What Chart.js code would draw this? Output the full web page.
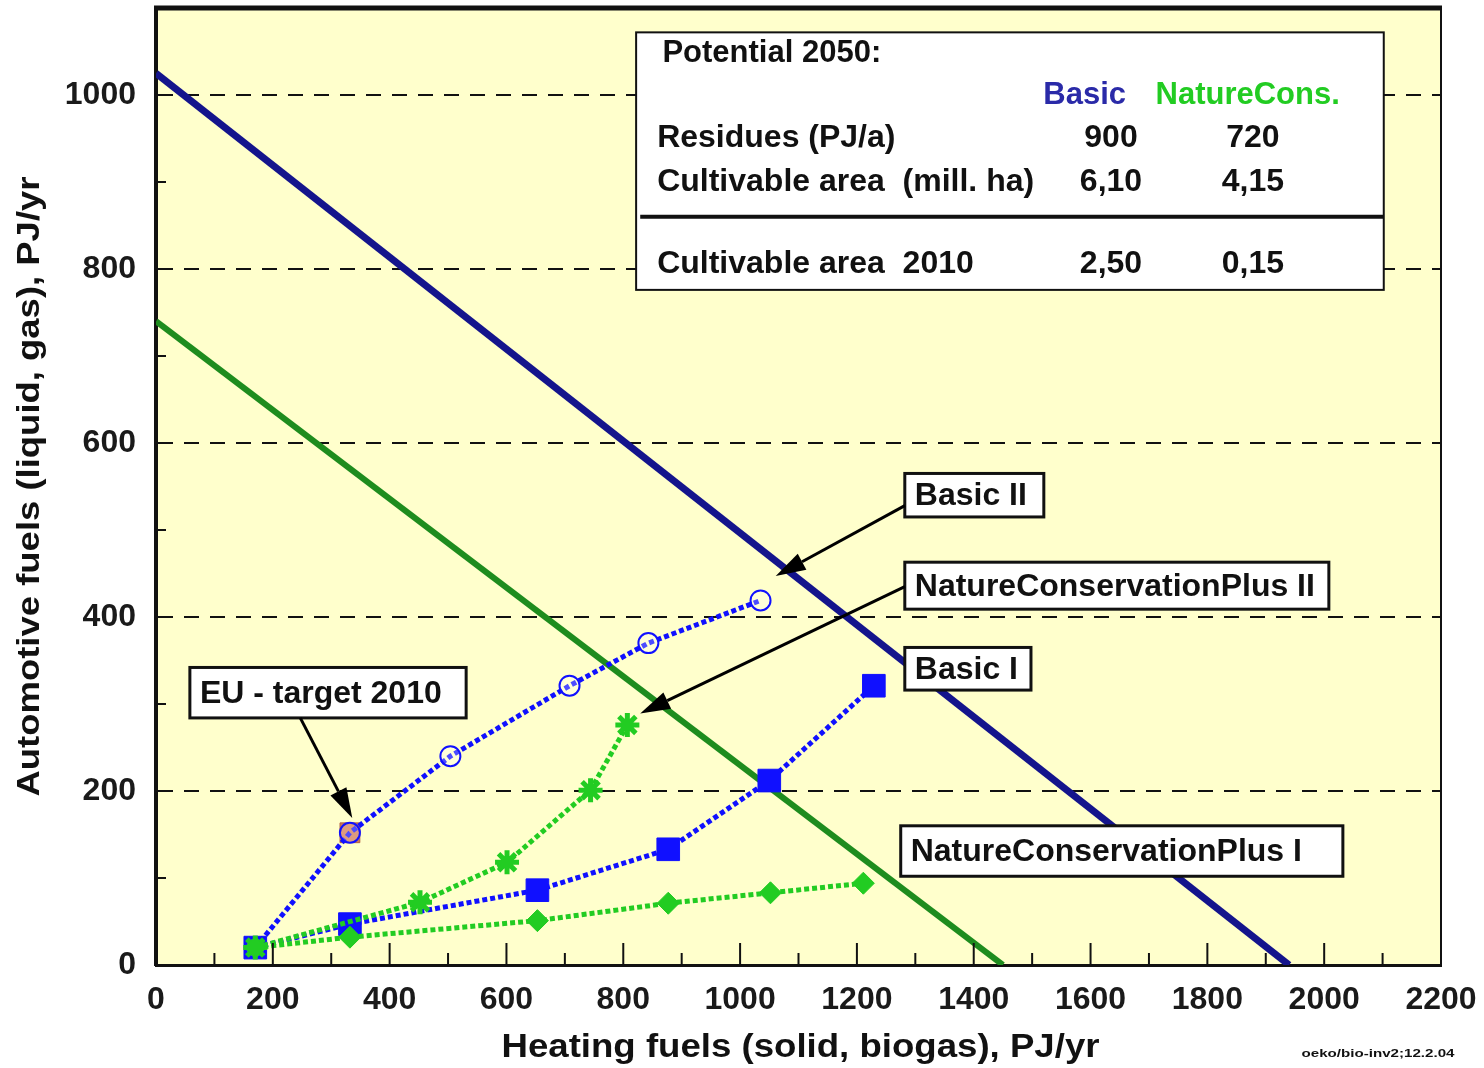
<!DOCTYPE html>
<html>
<head>
<meta charset="utf-8">
<script src="https://cdn.jsdelivr.net/npm/chart.js@4.4.1/dist/chart.umd.min.js"></script>
<style>
  html, body { margin: 0; padding: 0; background: #fff; }
</style>
</head>
<body>
<canvas id="chart" width="1484" height="1068"></canvas>
<script>
// axis ticks
const xTicks = [0, 200, 400, 600, 800, 1000, 1200, 1400, 1600, 1800, 2000, 2200];
const yTicks = [0, 200, 400, 600, 800, 1000];

// potential 2050 limit lines
const basicLimitX = [0, 1940];
const basicLimitY = [1025, 0];
const natureLimitX = [0, 1450];
const natureLimitY = [740, 0];

// scenario paths
const basicIX = [170, 332, 653, 877, 1050, 1229];
const basicIY = [20, 47, 86, 133, 212, 321];
const basicIIX = [170, 332, 504, 708, 843, 1035];
const basicIIY = [20, 152, 240, 321, 370, 419];
const natureIX = [170, 332, 653, 877, 1052, 1211];
const natureIY = [20, 32, 51, 71, 83, 94];
const natureIIX = [170, 452, 601, 744, 807];
const natureIIY = [20, 72, 118, 201, 276];
const euTargetX = [332];
const euTargetY = [152];

// table "Potential 2050"
const tableTitle = 'Potential 2050:';
const tableHeads = ['Basic', 'NatureCons.'];
const tableRows = [
    ['Residues (PJ/a)', '900', '720'],
    ['Cultivable area  (mill. ha)', '6,10', '4,15'],
    ['Cultivable area  2010', '2,50', '0,15']
];

const font = '"Liberation Sans", Arial, sans-serif';
const blue = '#1010ff';
const green = '#22cc22';

const pts = (xs, ys) => xs.map((x, i) => ({x: x, y: ys[i]}));

// label boxes and arrows, in data units
const boxes = [
    {text: 'Basic II', x1: 1282, y1: 565, x2: 1520, y2: 515},
    {text: 'NatureConservationPlus II', x1: 1282, y1: 463, x2: 2008, y2: 409},
    {text: 'Basic I', x1: 1282, y1: 365, x2: 1498, y2: 316},
    {text: 'NatureConservationPlus I', x1: 1275, y1: 160, x2: 2032, y2: 102},
    {text: 'EU - target 2010', x1: 58, y1: 342, x2: 531, y2: 284}
];
const arrows = [
    {x1: 1282, y1: 528, x2: 1061, y2: 447},
    {x1: 1282, y1: 435, x2: 829, y2: 289},
    {x1: 247, y1: 284, x2: 336, y2: 169}
];

function fitText(ctx, text, x, y, width, rot) {
    const w = ctx.measureText(text).width;
    ctx.save();
    ctx.translate(x, y);
    if (rot) ctx.rotate(rot);
    ctx.scale(width / w, 1);
    ctx.textAlign = 'center';
    ctx.textBaseline = 'middle';
    ctx.fillText(text, 0, 0);
    ctx.restore();
}

function drawArrow(ctx, x1, y1, x2, y2) {
    const ang = Math.atan2(y2 - y1, x2 - x1);
    const len = 30, half = 9;
    const bx = x2 - len * Math.cos(ang), by = y2 - len * Math.sin(ang);
    ctx.beginPath();
    ctx.moveTo(x1, y1);
    ctx.lineTo(bx, by);
    ctx.lineWidth = 3;
    ctx.stroke();
    ctx.beginPath();
    ctx.moveTo(x2, y2);
    ctx.lineTo(bx + half * Math.sin(ang), by - half * Math.cos(ang));
    ctx.lineTo(bx - half * Math.sin(ang), by + half * Math.cos(ang));
    ctx.closePath();
    ctx.fill();
}

const decor = {
    id: 'decor',
    beforeDraw(chart) {
        const {ctx, chartArea: a} = chart;
        ctx.save();
        ctx.fillStyle = '#fff';
        ctx.fillRect(0, 0, chart.width, chart.height);
        ctx.fillStyle = '#ffffcc';
        ctx.fillRect(a.left, a.top, a.right - a.left, a.bottom - a.top);
        ctx.restore();
    },
    afterDatasetsDraw(chart) {
        const {ctx} = chart;
        const px = v => chart.scales.x.getPixelForValue(v);
        const py = v => chart.scales.y.getPixelForValue(v);
        ctx.save();

        // table box
        ctx.fillStyle = '#fff';
        ctx.strokeStyle = '#111';
        ctx.lineWidth = 2;
        ctx.fillRect(px(822), py(1072), px(2102) - px(822), py(776) - py(1072));
        ctx.strokeRect(px(822), py(1072), px(2102) - px(822), py(776) - py(1072));
        ctx.beginPath();
        ctx.lineWidth = 4;
        ctx.moveTo(px(829), py(860));
        ctx.lineTo(px(2102), py(860));
        ctx.stroke();

        ctx.fillStyle = '#111';
        ctx.textBaseline = 'middle';
        ctx.font = 'bold 31px ' + font;
        ctx.textAlign = 'left';
        ctx.fillText(tableTitle, px(867), py(1048));
        ctx.textAlign = 'center';
        ctx.font = 'bold 31px ' + font;
        ctx.fillStyle = '#2a2aa8';
        ctx.fillText(tableHeads[0], px(1590), py(999));
        ctx.fillStyle = green;
        ctx.fillText(tableHeads[1], px(1869), py(999));
        ctx.fillStyle = '#111';
        ctx.font = 'bold 32px ' + font;
        const rowY = [950, 900, 805];
        tableRows.forEach((row, i) => {
            ctx.textAlign = 'left';
            ctx.fillText(row[0], px(858), py(rowY[i]));
            ctx.textAlign = 'center';
            ctx.fillText(row[1], px(1635), py(rowY[i]));
            ctx.fillText(row[2], px(1878), py(rowY[i]));
        });

        // label boxes
        ctx.font = 'bold 32px ' + font;
        boxes.forEach(b => {
            const x = px(b.x1), y = py(b.y1), w = px(b.x2) - x, h = py(b.y2) - y;
            ctx.fillStyle = '#fff';
            ctx.fillRect(x, y, w, h);
            ctx.strokeStyle = '#111';
            ctx.lineWidth = 3;
            ctx.strokeRect(x, y, w, h);
            ctx.fillStyle = '#111';
            ctx.textAlign = 'left';
            ctx.fillText(b.text, x + 10, y + h / 2 + 1);
        });

        // arrows
        ctx.strokeStyle = '#000';
        ctx.fillStyle = '#000';
        arrows.forEach(r => drawArrow(ctx, px(r.x1), py(r.y1), px(r.x2), py(r.y2)));
        ctx.restore();
    },
    afterDraw(chart) {
        const {ctx, chartArea: a} = chart;
        const px = v => chart.scales.x.getPixelForValue(v);
        const py = v => chart.scales.y.getPixelForValue(v);
        ctx.save();
        ctx.strokeStyle = '#111';
        // top and right frame
        ctx.lineWidth = 5;
        ctx.beginPath();
        ctx.moveTo(a.left - 2, a.top);
        ctx.lineTo(a.right + 1, a.top);
        ctx.stroke();
        ctx.lineWidth = 2;
        ctx.beginPath();
        ctx.moveTo(a.right, a.top);
        ctx.lineTo(a.right, a.bottom);
        ctx.stroke();
        // inner ticks
        ctx.lineWidth = 2;
        for (let v = 100; v <= 2100; v += 100) {
            const len = v % 200 === 0 ? 22 : 12;
            ctx.beginPath();
            ctx.moveTo(px(v), a.bottom);
            ctx.lineTo(px(v), a.bottom - len);
            ctx.stroke();
        }
        for (let v = 100; v <= 900; v += 200) {
            ctx.beginPath();
            ctx.moveTo(a.left, py(v));
            ctx.lineTo(a.left + 10, py(v));
            ctx.stroke();
        }
        // axis titles
        ctx.fillStyle = '#111';
        ctx.font = 'bold 33px ' + font;
        fitText(ctx, 'Heating fuels (solid, biogas), PJ/yr', (a.left + a.right) / 2 + 2, 1048, 598);
        ctx.font = 'bold 32px ' + font;
        fitText(ctx, 'Automotive fuels (liquid, gas), PJ/yr', 30, (a.top + a.bottom) / 2, 620, -Math.PI / 2);
        ctx.font = 'bold 11px ' + font;
        fitText(ctx, 'oeko/bio-inv2;12.2.04', 1378, 1054, 153);
        ctx.restore();
    }
};

const dotted = [5, 3];
const tickFont = {family: font, size: 32, weight: 'bold'};

new Chart(document.getElementById('chart').getContext('2d'), {
    type: 'scatter',
    data: {
        datasets: [
            {
                label: 'NatureConservationPlus I',
                data: pts(natureIX, natureIY),
                showLine: true, order: 1,
                borderColor: green, backgroundColor: green,
                borderWidth: 5, borderDash: dotted,
                pointStyle: 'rectRot', pointRadius: 11, pointBorderWidth: 1
            },
            {
                label: 'NatureConservationPlus II',
                data: pts(natureIIX, natureIIY),
                showLine: true, order: 2,
                borderColor: green, backgroundColor: green,
                borderWidth: 5, borderDash: dotted,
                pointStyle: 'star', pointRadius: 12, pointBorderWidth: 5
            },
            {
                label: 'Basic II',
                data: pts(basicIIX, basicIIY),
                showLine: true, order: 3,
                borderColor: blue, backgroundColor: 'rgba(255,255,255,0.25)',
                borderWidth: 5, borderDash: dotted,
                pointStyle: 'circle', pointRadius: 10, pointBorderWidth: 2
            },
            {
                label: 'Basic I',
                data: pts(basicIX, basicIY),
                showLine: true, order: 4,
                borderColor: blue, backgroundColor: blue,
                borderWidth: 5, borderDash: dotted,
                pointStyle: 'rect', pointRadius: 16, pointBorderWidth: 1
            },
            {
                label: 'EU - target 2010',
                data: pts(euTargetX, euTargetY),
                order: 5,
                borderColor: '#b06040', backgroundColor: '#d07a55',
                pointStyle: 'rect', pointRadius: 14, pointBorderWidth: 1
            },
            {
                label: 'Basic',
                data: pts(basicLimitX, basicLimitY),
                showLine: true, order: 6,
                borderColor: '#14148c', borderWidth: 7, pointRadius: 0
            },
            {
                label: 'NatureCons.',
                data: pts(natureLimitX, natureLimitY),
                showLine: true, order: 7,
                borderColor: '#1e8c1e', borderWidth: 6, pointRadius: 0
            }
        ]
    },
    options: {
        responsive: false,
        animation: false,
        layout: {autoPadding: false, padding: {top: 8, right: 43, left: 0, bottom: 0}},
        plugins: {legend: {display: false}, tooltip: {enabled: false}},
        scales: {
            x: {
                type: 'linear', min: 0, max: 2200,
                afterFit: s => { s.height = 103; s.paddingLeft = 0; s.paddingRight = 0; },
                afterBuildTicks: s => { s.ticks = xTicks.map(v => ({value: v})); },
                grid: {display: false, drawTicks: false},
                border: {display: true, color: '#111', width: 3},
                ticks: {padding: 16, color: '#1a1a1a', font: tickFont, callback: v => String(v)}
            },
            y: {
                type: 'linear', min: 0, max: 1100,
                afterFit: s => { s.width = 156; s.paddingTop = 0; s.paddingBottom = 0; },
                afterBuildTicks: s => { s.ticks = yTicks.map(v => ({value: v})); },
                grid: {
                    drawTicks: false, lineWidth: 2,
                    color: c => c.tick && c.tick.value === 0 ? 'rgba(0,0,0,0)' : '#111'
                },
                border: {display: true, color: '#111', width: 4, dash: [15, 11]},
                ticks: {padding: 20, color: '#1a1a1a', font: tickFont, callback: v => String(v)}
            }
        }
    },
    plugins: [decor]
});
</script>
</body>
</html>
